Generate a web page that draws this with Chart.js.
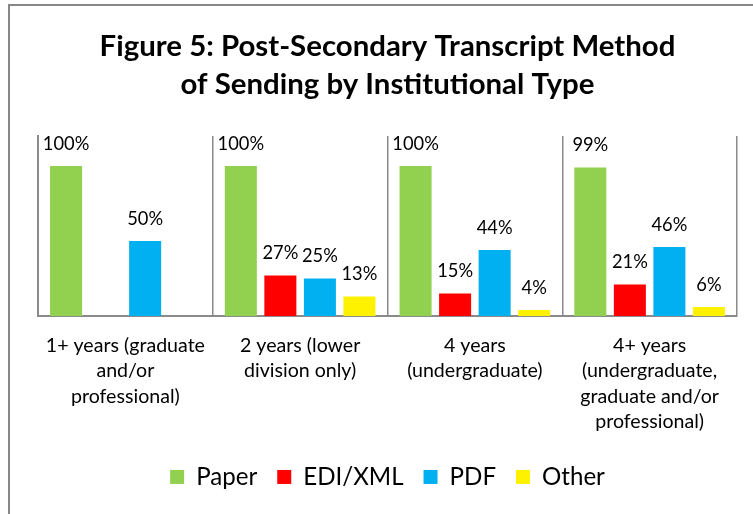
<!DOCTYPE html>
<html><head><meta charset="utf-8">
<script src="https://cdn.jsdelivr.net/npm/chart.js@4.4.0/dist/chart.umd.min.js"></script>
<style>
html,body{margin:0;padding:0;background:#fff;overflow:hidden}
#frame{position:absolute;left:8px;top:4px;width:900px;height:700px;border-left:2px solid #878787;border-top:2px solid #878787;}
#wrap{position:absolute;left:0;top:0;width:753px;height:514px}
</style></head><body>
<div id="frame"></div>
<div id="wrap"><canvas id="c" width="753" height="514"></canvas></div>
<script>
const categories = [
  ["1+ years (graduate", "and/or", "professional)"],
  ["2 years (lower", "division only)"],
  ["4 years", "(undergraduate)"],
  ["4+ years", "(undergraduate,", "graduate and/or", "professional)"]
];
const seriesNames = ["Paper", "EDI/XML", "PDF", "Other"];
const paper  = [100, 100, 100, 99];
const ediXml = [null, 27, 15, 21];
const pdf    = [50, 25, 44, 46];
const other  = [null, 13, 4, 6];
const titleLines = ["Figure 5: Post-Secondary Transcript Method", "of Sending by Institutional Type"];

const FAMILY = 'Lato, "Noto Sans", sans-serif';
function fitSize(weight, text, target) {
  const c = document.createElement('canvas').getContext('2d');
  c.font = weight + ' 100px ' + FAMILY;
  return Math.round(1000 * target / c.measureText(text).width) / 10;
}
const titleSize = fitSize('bold', titleLines[0], 575);
const tickSize = fitSize('normal', categories[0][0], 159);
const labelSize = fitSize('normal', '100%', 46.5);
const legendSize = fitSize('normal', 'Paper', 61);

const GRAY = '#8a8a8a';

const valueLabels = {
  id: 'valueLabels',
  afterDatasetsDraw(chart) {
    const ctx = chart.ctx;
    ctx.save();
    ctx.font = 'normal ' + labelSize + 'px ' + FAMILY;
    ctx.fillStyle = '#000';
    ctx.textAlign = 'center';
    ctx.textBaseline = 'alphabetic';
    chart.data.datasets.forEach((ds, i) => {
      const meta = chart.getDatasetMeta(i);
      meta.data.forEach((el, j) => {
        const v = ds.data[j];
        if (v === null || v === undefined) return;
        ctx.fillText(v + '%', el.x, el.y - 16);
      });
    });
    ctx.restore();
  }
};

new Chart(document.getElementById('c'), {
  type: 'bar',
  data: {
    labels: categories,
    datasets: [
      { label: seriesNames[0], data: paper,  backgroundColor: '#92D050' },
      { label: seriesNames[1], data: ediXml, backgroundColor: '#FF0000' },
      { label: seriesNames[2], data: pdf,    backgroundColor: '#00B0F0' },
      { label: seriesNames[3], data: other,  backgroundColor: '#FFF200' }
    ]
  },
  options: {
    responsive: false,
    animation: false,
    devicePixelRatio: 1,
    barPercentage: 0.81,
    categoryPercentage: 0.905,
    layout: { padding: { left: 38, right: 16, top: 0, bottom: 15 } },
    plugins: {
      tooltip: { enabled: false },
      title: {
        display: true,
        text: titleLines,
        color: '#000',
        font: { family: FAMILY, weight: 'bold', size: titleSize, lineHeight: '38px' },
        padding: { top: 28, bottom: 32 }
      },
      legend: {
        position: 'bottom',
        labels: {
          color: '#000',
          font: { family: FAMILY, size: legendSize },
          boxWidth: 14,
          boxHeight: 14,
          padding: 20
        }
      }
    },
    scales: {
      x: {
        grid: { display: true, color: GRAY, lineWidth: 1.5, drawTicks: false, offset: true },
        border: { display: true, color: GRAY, width: 2 },
        ticks: {
          color: '#000',
          font: { family: FAMILY, size: tickSize, lineHeight: '25.5px' },
          padding: 17,
          maxRotation: 0,
          autoSkip: false
        },
        afterFit: s => { s.height -= 7; }
      },
      y: {
        min: 0,
        max: 120,
        grid: { display: false, drawTicks: false },
        border: { display: true, color: GRAY, width: 2 },
        ticks: { display: false }
      }
    }
  },
  plugins: [valueLabels]
});
</script>
</body></html>
